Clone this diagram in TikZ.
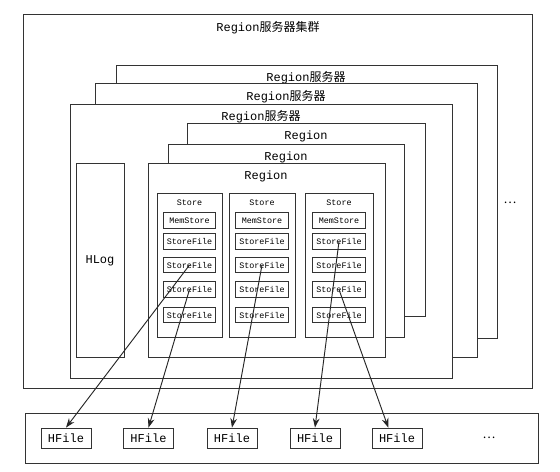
\documentclass[tikz,border=0pt]{standalone}
\usepackage{fontspec}
\setmainfont{Liberation Mono}
\newfontfamily\cjk{Noto Sans CJK SC}
\usetikzlibrary{arrows.meta}

\begin{document}
\begin{tikzpicture}[x=0.75pt,y=0.75pt,yscale=-1,xscale=1,
  frame/.style={draw=black!80,line width=0.6pt,fill=white},
  biglabel/.style={font=\fontsize{9}{10}\selectfont,inner sep=0pt},
  smalllabel/.style={font=\fontsize{6.3}{7}\selectfont,inner sep=0pt},
  filebox/.style={draw=black!80,line width=0.6pt,fill=white,minimum width=39.5pt,minimum height=11.8pt,inner sep=0pt,font=\fontsize{6.3}{7}\selectfont},
  hfilebox/.style={draw=black!80,line width=0.6pt,fill=white,minimum width=37.5pt,minimum height=15pt,inner sep=0pt,font=\fontsize{9}{10}\selectfont},
  link/.style={black!85,line width=0.7pt,-{Stealth[length=7pt,width=5pt]}}]
\path[use as bounding box] (0,0) rectangle (560,471);

%Shape: Rectangle [cluster]
\draw[frame] (23,14) rectangle (532,388);
% Text Node
\node[biglabel] (lcluster) at (268,28) {Region{\cjk 服务器集群}};

%Shape: Rectangle [servers]
\draw[frame] (116,65) rectangle (497,338);
\node[biglabel] (lserverA) at (306,78) {Region{\cjk 服务器}};
\draw[frame] (95,83) rectangle (477,357);
\node[biglabel] (lserverB) at (286,97) {Region{\cjk 服务器}};
\draw[frame] (70,104) rectangle (452,378);
\node[biglabel] (lserverC) at (261,117) {Region{\cjk 服务器}};
% Text Node
\node[biglabel] (dotsA) at (510,203) {\cjk …};

%Shape: Rectangle [regions]
\draw[frame] (187,123) rectangle (425,316);
\node[biglabel] (lregionA) at (306,136) {Region};
\draw[frame] (168,144) rectangle (404,337);
\node[biglabel] (lregionB) at (286,157) {Region};
\draw[frame] (148,163) rectangle (385,357);
\node[biglabel] (lregionC) at (266,176) {Region};

%Shape: Rectangle [hlog]
\draw[frame] (76,163) rectangle (124,357);
\node[biglabel] (lhlog) at (100,261) {HLog};

%Shape: Rectangle [stores]
\draw[frame] (157,193) rectangle (222,337);
\node[smalllabel] (lstoreA) at (189.5,203) {Store};
\draw[frame] (229,193) rectangle (295,337);
\node[smalllabel] (lstoreB) at (262,203) {Store};
\draw[frame] (305,193) rectangle (373,337);
\node[smalllabel] (lstoreC) at (339,203) {Store};

% Store 1
\node[filebox] (memA) at (189.5,220.5) {MemStore};
\node[filebox] (sfA1) at (189.5,241.5) {StoreFile};
\node[filebox] (sfA2) at (189.5,265) {StoreFile};
\node[filebox] (sfA3) at (189.5,289.5) {StoreFile};
\node[filebox] (sfA4) at (189.5,315) {StoreFile};
% Store 2
\node[filebox] (memB) at (262,220.5) {MemStore};
\node[filebox] (sfB1) at (262,241.5) {StoreFile};
\node[filebox] (sfB2) at (262,265) {StoreFile};
\node[filebox] (sfB3) at (262,289.5) {StoreFile};
\node[filebox] (sfB4) at (262,315) {StoreFile};
% Store 3
\node[filebox] (memC) at (339,220.5) {MemStore};
\node[filebox] (sfC1) at (339,241.5) {StoreFile};
\node[filebox] (sfC2) at (339,265) {StoreFile};
\node[filebox] (sfC3) at (339,289.5) {StoreFile};
\node[filebox] (sfC4) at (339,315) {StoreFile};

%Shape: Rectangle [hdfs]
\draw[frame] (25,413) rectangle (538,463);
\node[hfilebox] (hfA) at (66,438) {HFile};
\node[hfilebox] (hfB) at (148.5,438) {HFile};
\node[hfilebox] (hfC) at (232,438) {HFile};
\node[hfilebox] (hfD) at (315,438) {HFile};
\node[hfilebox] (hfE) at (397,438) {HFile};
% Text Node
\node[biglabel] (dotsB) at (489,438) {\cjk …};

%Straight Lines [flush]
\draw[link] (sfA2.center) -- (hfA.north);
\draw[link] (sfA3.center) -- (hfB.north);
\draw[link] (sfB2.center) -- (hfC.north);
\draw[link] (sfC1.center) -- (hfD.north);
\draw[link] (sfC3.center) -- (hfE.130);

\end{tikzpicture}
\end{document}
